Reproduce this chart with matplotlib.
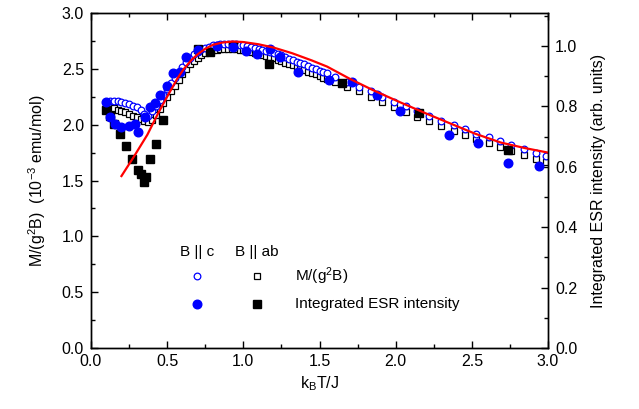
import matplotlib

matplotlib.use("Agg")
import matplotlib.pyplot as plt
from matplotlib.ticker import MultipleLocator

plt.rcParams["font.family"] = ["Liberation Sans", "DejaVu Sans"]
plt.rcParams["mathtext.fontset"] = "custom"
plt.rcParams["mathtext.rm"] = "Liberation Sans"
plt.rcParams["mathtext.default"] = "regular"

# k_B T / J for the magnetization curves (dense scan, then sparse)
t_mag = [0.100, 0.125, 0.150, 0.175, 0.200, 0.225, 0.250, 0.275, 0.300, 0.325,
         0.350, 0.375, 0.400, 0.425, 0.450, 0.475, 0.500, 0.525, 0.550, 0.575,
         0.600, 0.625, 0.650, 0.675, 0.700, 0.725, 0.750, 0.775, 0.800, 0.825,
         0.850, 0.875, 0.900, 0.925, 0.950, 0.975, 1.000, 1.025, 1.050, 1.075,
         1.100, 1.125, 1.150, 1.175, 1.200, 1.225, 1.250, 1.275, 1.300, 1.325,
         1.350, 1.375, 1.400, 1.425, 1.450, 1.475, 1.500, 1.525, 1.550,
         1.605, 1.680, 1.760, 1.835, 1.910, 1.990, 2.066, 2.140, 2.220, 2.300,
         2.380, 2.456, 2.530, 2.610, 2.686, 2.760, 2.840, 2.920, 2.990]
# M/(g^2 B), B || c  (10^-3 emu/mol)
m_c = [2.200, 2.210, 2.215, 2.210, 2.205, 2.195, 2.185, 2.170, 2.155, 2.130,
       2.100, 2.080, 2.120, 2.170, 2.220, 2.270, 2.320, 2.370, 2.420, 2.470,
       2.520, 2.560, 2.600, 2.630, 2.655, 2.675, 2.690, 2.700, 2.710, 2.715,
       2.720, 2.720, 2.720, 2.720, 2.720, 2.715, 2.710, 2.705, 2.700, 2.690,
       2.680, 2.670, 2.660, 2.650, 2.640, 2.630, 2.620, 2.605, 2.590, 2.580,
       2.565, 2.550, 2.540, 2.525, 2.510, 2.500, 2.485, 2.470, 2.460,
       2.430, 2.385, 2.340, 2.300, 2.250, 2.205, 2.170, 2.120, 2.080, 2.030,
       2.000, 1.960, 1.920, 1.886, 1.850, 1.820, 1.780, 1.750, 1.720]
# M/(g^2 B), B || ab
m_ab = [2.160, 2.155, 2.145, 2.135, 2.120, 2.110, 2.095, 2.080, 2.065, 2.050,
        2.035, 2.020, 2.040, 2.090, 2.140, 2.190, 2.250, 2.300, 2.350, 2.400,
        2.450, 2.500, 2.540, 2.570, 2.600, 2.620, 2.640, 2.655, 2.665, 2.670,
        2.675, 2.680, 2.680, 2.680, 2.675, 2.670, 2.665, 2.660, 2.655, 2.645,
        2.635, 2.625, 2.615, 2.605, 2.595, 2.580, 2.570, 2.555, 2.545, 2.530,
        2.515, 2.500, 2.490, 2.475, 2.460, 2.450, 2.435, 2.420, 2.410,
        2.385, 2.340, 2.300, 2.250, 2.205, 2.160, 2.110, 2.070, 2.030, 1.990,
        1.940, 1.910, 1.870, 1.840, 1.800, 1.760, 1.730, 1.690, 1.670]

# integrated ESR intensity (arb. units)
t_esr_c = [0.10, 0.125, 0.16, 0.20, 0.25, 0.29, 0.31, 0.355, 0.39, 0.42,
           0.455, 0.50, 0.54, 0.585, 0.625, 0.70, 0.83, 0.935, 1.02, 1.09,
           1.175, 1.24, 1.36, 1.565, 1.715, 1.88, 2.03, 2.35, 2.54, 2.74, 2.94]
esr_c = [0.814, 0.766, 0.740, 0.732, 0.736, 0.740, 0.714, 0.766, 0.799, 0.810,
         0.839, 0.869, 0.910, 0.913, 0.965, 0.987, 0.999, 0.995, 0.984, 0.973,
         0.991, 0.965, 0.915, 0.888, 0.880, 0.838, 0.784, 0.706, 0.680, 0.614, 0.603]
t_esr_ab = [0.10, 0.125, 0.15, 0.19, 0.23, 0.27, 0.31, 0.33, 0.35, 0.36,
            0.39, 0.43, 0.47, 0.70, 0.78, 0.935, 1.17, 1.645, 2.15, 2.74]
esr_ab = [0.788, 0.769, 0.740, 0.710, 0.669, 0.625, 0.588, 0.577, 0.551, 0.566,
          0.625, 0.677, 0.754, 0.991, 0.980, 0.999, 0.939, 0.876, 0.777, 0.655]

# theory curve, M/(g^2 B)
t_fit = [0.20, 0.28, 0.37, 0.44, 0.52, 0.57, 0.61, 0.66, 0.70, 0.75, 0.80,
         0.86, 0.93, 1.00, 1.10, 1.20, 1.32, 1.45, 1.55, 1.70, 1.85, 2.03,
         2.20, 2.36, 2.52, 2.69, 2.85, 3.00]
m_fit = [1.54, 1.71, 1.91, 2.10, 2.30, 2.42, 2.50, 2.58, 2.63, 2.68, 2.715,
         2.735, 2.745, 2.74, 2.72, 2.69, 2.64, 2.575, 2.52, 2.41, 2.31, 2.20,
         2.10, 2.01, 1.92, 1.84, 1.79, 1.75]

fig = plt.figure(figsize=(6.39, 4.09), dpi=100)
ax = fig.add_axes([0.1424, 0.1491, 0.7152, 0.8191])
ax2 = ax.twinx()

ax.plot(t_mag, m_ab, ls="none", marker="s", ms=4.4, mfc="white", mec="black", mew=0.9)
ax.plot(t_mag, m_c, ls="none", marker="o", ms=4.8, mfc="white", mec="#0000ff", mew=0.9)
ax2.plot(t_esr_ab, esr_ab, ls="none", marker="s", ms=5.2, color="black")
ax2.plot(t_esr_c, esr_c, ls="none", marker="o", ms=6.2, color="#0000ff")
ax2.plot(t_fit, m_fit, color="#ff0000", lw=1.6, transform=ax.transData)

ax.set_xlim(0, 3.0)
ax.set_ylim(0, 3.0)
ax2.set_ylim(0, 1.109)
ax.xaxis.set_major_locator(MultipleLocator(0.5))
ax.xaxis.set_minor_locator(MultipleLocator(0.25))
ax.yaxis.set_major_locator(MultipleLocator(0.5))
ax.yaxis.set_minor_locator(MultipleLocator(0.25))
ax2.yaxis.set_major_locator(MultipleLocator(0.2))
ax2.yaxis.set_minor_locator(MultipleLocator(0.1))
ax.xaxis.set_major_formatter(plt.FormatStrFormatter("%.1f"))
ax.yaxis.set_major_formatter(plt.FormatStrFormatter("%.1f"))
ax2.yaxis.set_major_formatter(plt.FormatStrFormatter("%.1f"))

ax.tick_params(axis="x", which="both", direction="in", top=True, labelsize=11.5, pad=4)
ax.tick_params(axis="y", which="both", direction="in", right=False, labelsize=11.5, pad=5)
ax2.tick_params(axis="y", which="both", direction="in", labelsize=11.5, pad=5)
for a in (ax, ax2):
    a.tick_params(which="major", length=5, width=1)
    a.tick_params(which="minor", length=3, width=1)
    for s in a.spines.values():
        s.set_linewidth(1.0)

ax.set_xlabel("k$_B$T/J", fontsize=11.5, labelpad=4)
ax.set_ylabel("M/(g$^2$B)  (10$^{-3}$ emu/mol)", fontsize=11.5, labelpad=10)
ax2.set_ylabel("Integrated ESR intensity (arb. units)", fontsize=11.5, labelpad=10)

# legend block
ax.text(0.2326, 0.2875, "B || c", transform=ax.transAxes, ha="center", va="center", fontsize=11)
ax.text(0.3626, 0.2875, "B || ab", transform=ax.transAxes, ha="center", va="center", fontsize=11)
ax2.plot([0.2326], [0.2158], transform=ax.transAxes, marker="o", ms=4.8, mfc="white",
         mec="#0000ff", mew=0.9, clip_on=False)
ax2.plot([0.3626], [0.2158], transform=ax.transAxes, marker="s", ms=4.4, mfc="white",
         mec="black", mew=0.9, clip_on=False)
ax2.plot([0.2326], [0.1313], transform=ax.transAxes, marker="o", ms=6.2, color="#0000ff",
         clip_on=False)
ax2.plot([0.3626], [0.1313], transform=ax.transAxes, marker="s", ms=5.2, color="black",
         clip_on=False)
ax.text(0.4464, 0.2158, "M/(g$^2$B)", transform=ax.transAxes, ha="left", va="center", fontsize=11)
ax.text(0.4464, 0.1313, "Integrated ESR intensity", transform=ax.transAxes, ha="left",
        va="center", fontsize=11)

fig.savefig("out.png", dpi=100)
